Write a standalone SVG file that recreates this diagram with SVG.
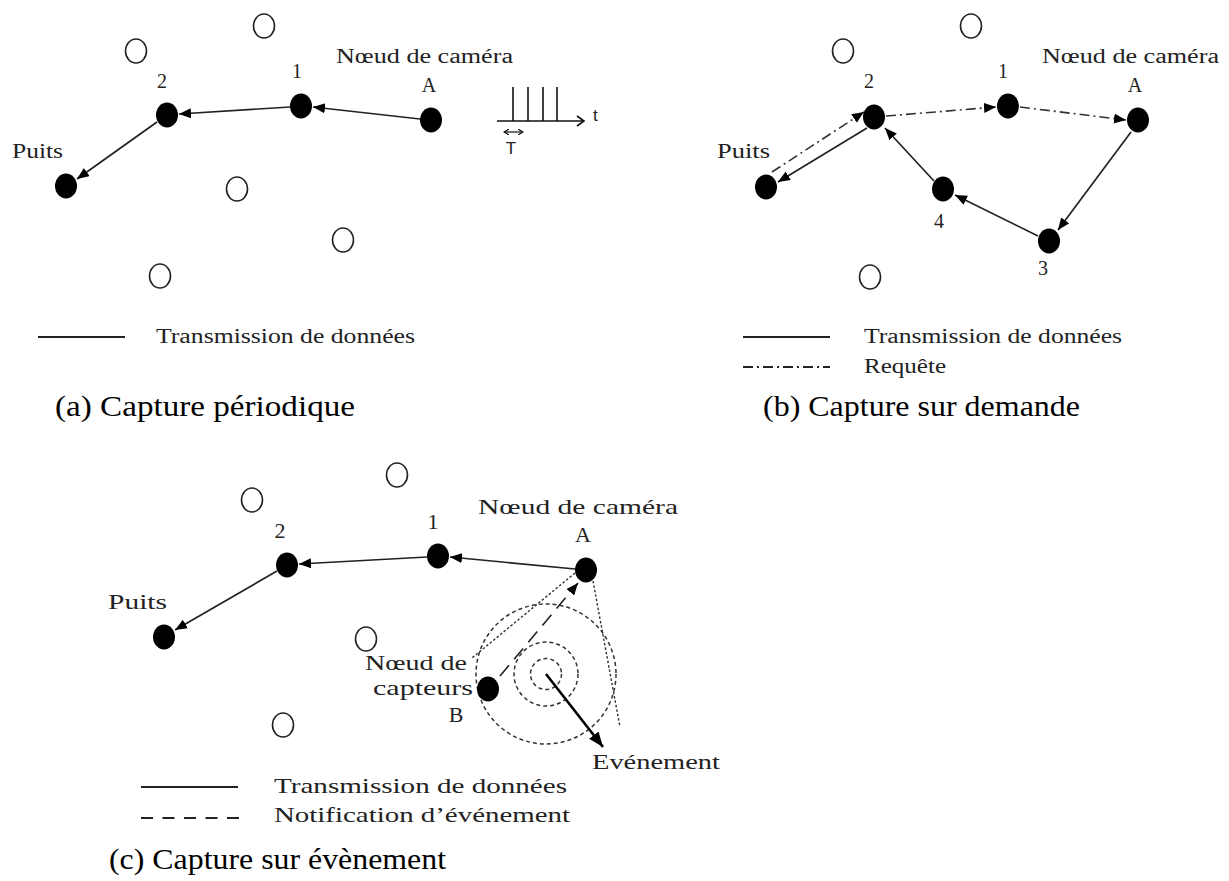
<svg xmlns="http://www.w3.org/2000/svg" width="1229" height="881" viewBox="0 0 1229 881">
  <style>
    .lbl { font-family: "Liberation Serif", "DejaVu Serif", serif; font-size: 20px; fill: #222; }
    .lblc { font-family: "Liberation Serif", "DejaVu Serif", serif; font-size: 22px; fill: #222; }
    .cap { font-family: "Liberation Serif", "Times New Roman", serif; font-size: 29px; fill: #000; }
    .sans { font-family: "Liberation Sans", Arial, sans-serif; font-size: 17px; fill: #222; }
    .dot { fill: #000; }
    .free { fill: none; stroke: #222; stroke-width: 1.6; }
    .data { fill: none; stroke: #222; stroke-width: 1.7; marker-end: url(#tri); }
    .req { fill: none; stroke: #333; stroke-width: 1.6; stroke-dasharray: 10 4 2 4; marker-end: url(#tri); }
    .note { fill: none; stroke: #222; stroke-width: 1.6; stroke-dasharray: 14 8; marker-end: url(#tri); }
    .ring { fill: none; stroke: #333; stroke-width: 1.5; stroke-dasharray: 4 3; }
    .view { fill: none; stroke: #333; stroke-width: 1.4; stroke-dasharray: 2.5 2; }
    .leg { stroke: #222; stroke-width: 2; }
  </style>
  <defs>
    <marker id="tri" markerUnits="userSpaceOnUse" markerWidth="13" markerHeight="11" refX="12" refY="5" orient="auto">
      <path d="M0,0 L12,5 L0,10 z" fill="#000"/>
    </marker>
    <marker id="triBig" markerUnits="userSpaceOnUse" markerWidth="16" markerHeight="13" refX="15" refY="6" orient="auto">
      <path d="M0,0 L15,6 L0,12 z" fill="#000"/>
    </marker>
    <marker id="chev" markerUnits="userSpaceOnUse" markerWidth="10" markerHeight="12" refX="8" refY="6" orient="auto">
      <path d="M1,1 L8,6 L1,11" fill="none" stroke="#111" stroke-width="1.6"/>
    </marker>
    <marker id="small" markerUnits="userSpaceOnUse" markerWidth="6" markerHeight="6" refX="5" refY="3" orient="auto-start-reverse">
      <path d="M0,0 L5,3 L0,6" fill="none" stroke="#111" stroke-width="1.2"/>
    </marker>
  </defs>

  <!-- ===== (a) periodic capture ===== -->
  <g id="a-idle">
    <ellipse class="free" cx="136" cy="51" rx="10.5" ry="12"/>
    <ellipse class="free" cx="264" cy="26" rx="10.5" ry="12"/>
    <ellipse class="free" cx="237" cy="189" rx="10.5" ry="12"/>
    <ellipse class="free" cx="343" cy="240" rx="10.5" ry="12"/>
    <ellipse class="free" cx="160" cy="276" rx="10.5" ry="12"/>
  </g>
  <g id="a-sink">
    <ellipse class="dot" cx="66" cy="186" rx="11" ry="12.5"/>
    <text class="lbl" x="12" y="158" textLength="51" lengthAdjust="spacingAndGlyphs">Puits</text>
  </g>
  <g id="a-node2">
    <ellipse class="dot" cx="167" cy="115" rx="11" ry="12.5"/>
    <text class="lbl" x="162" y="88" text-anchor="middle">2</text>
  </g>
  <g id="a-node1">
    <ellipse class="dot" cx="301" cy="106" rx="11" ry="12.5"/>
    <text class="lbl" x="297" y="78" text-anchor="middle">1</text>
  </g>
  <g id="a-camera">
    <ellipse class="dot" cx="431" cy="120" rx="11" ry="12.5"/>
    <text class="lbl" x="429" y="92" text-anchor="middle">A</text>
    <text class="lbl" x="336" y="63" textLength="177" lengthAdjust="spacingAndGlyphs">Nœud de caméra</text>
  </g>
  <g id="a-period">
    <line x1="497" y1="121" x2="584" y2="121" stroke="#111" stroke-width="1.6" marker-end="url(#chev)"/>
    <g stroke="#111" stroke-width="1.6">
      <line x1="513" y1="87" x2="513" y2="121"/>
      <line x1="528" y1="87" x2="528" y2="121"/>
      <line x1="543" y1="87" x2="543" y2="121"/>
      <line x1="557" y1="87" x2="557" y2="121"/>
    </g>
    <line x1="504" y1="132" x2="523" y2="132" stroke="#111" stroke-width="1.2" marker-start="url(#small)" marker-end="url(#small)"/>
    <text class="sans" x="593" y="121">t</text>
    <text class="sans" x="511" y="154" text-anchor="middle">T</text>
  </g>
  <g id="a-links">
    <line class="data" x1="420" y1="119" x2="313" y2="107"/>
    <line class="data" x1="290" y1="107" x2="179" y2="114"/>
    <line class="data" x1="157" y1="122" x2="77" y2="179"/>
  </g>
  <g id="a-legend">
    <line class="leg" x1="38" y1="337" x2="125" y2="337"/>
    <text class="lbl" x="156" y="343" textLength="259" lengthAdjust="spacingAndGlyphs">Transmission de données</text>
    <text class="cap" x="55" y="416" textLength="300" lengthAdjust="spacingAndGlyphs">(a)  Capture périodique</text>
  </g>

  <!-- ===== (b) on-demand capture ===== -->
  <g id="b-idle">
    <ellipse class="free" cx="843" cy="51" rx="10.5" ry="12"/>
    <ellipse class="free" cx="971" cy="26" rx="10.5" ry="12"/>
    <ellipse class="free" cx="870" cy="277" rx="10.5" ry="12"/>
  </g>
  <g id="b-sink">
    <ellipse class="dot" cx="766" cy="187" rx="11" ry="12.5"/>
    <text class="lbl" x="717" y="158" textLength="53" lengthAdjust="spacingAndGlyphs">Puits</text>
  </g>
  <g id="b-node2">
    <ellipse class="dot" cx="874" cy="117" rx="11" ry="12.5"/>
    <text class="lbl" x="869" y="88" text-anchor="middle">2</text>
  </g>
  <g id="b-node1">
    <ellipse class="dot" cx="1008" cy="106" rx="11" ry="12.5"/>
    <text class="lbl" x="1003" y="78" text-anchor="middle">1</text>
  </g>
  <g id="b-camera">
    <ellipse class="dot" cx="1138" cy="120" rx="11" ry="12.5"/>
    <text class="lbl" x="1135" y="92" text-anchor="middle">A</text>
    <text class="lbl" x="1042" y="63" textLength="177" lengthAdjust="spacingAndGlyphs">Nœud de caméra</text>
  </g>
  <g id="b-node4">
    <ellipse class="dot" cx="943" cy="189" rx="11" ry="12.5"/>
    <text class="lbl" x="939" y="228" text-anchor="middle">4</text>
  </g>
  <g id="b-node3">
    <ellipse class="dot" cx="1049" cy="241" rx="11" ry="12.5"/>
    <text class="lbl" x="1043" y="275" text-anchor="middle">3</text>
  </g>
  <g id="b-links">
    <line class="req" x1="772" y1="172" x2="864" y2="112"/>
    <line class="data" x1="867" y1="128" x2="778" y2="182"/>
    <line class="req" x1="886" y1="116" x2="996" y2="107"/>
    <line class="req" x1="1020" y1="107" x2="1126" y2="120"/>
    <line class="data" x1="1131" y1="132" x2="1058" y2="230"/>
    <line class="data" x1="1038" y1="236" x2="955" y2="195"/>
    <line class="data" x1="934" y1="181" x2="885" y2="128"/>
  </g>
  <g id="b-legend">
    <line class="leg" x1="743" y1="337" x2="830" y2="337"/>
    <text class="lbl" x="864" y="343" textLength="258" lengthAdjust="spacingAndGlyphs">Transmission de données</text>
    <line x1="743" y1="367" x2="830" y2="367" stroke="#222" stroke-width="1.8" stroke-dasharray="10 4 2 4"/>
    <text class="lbl" x="864" y="373" textLength="82" lengthAdjust="spacingAndGlyphs">Requête</text>
    <text class="cap" x="763" y="416" textLength="317" lengthAdjust="spacingAndGlyphs">(b) Capture sur demande</text>
  </g>

  <!-- ===== (c) event-driven capture ===== -->
  <g id="c-idle">
    <ellipse class="free" cx="252" cy="500" rx="10.5" ry="12"/>
    <ellipse class="free" cx="397" cy="475" rx="10.5" ry="12"/>
    <ellipse class="free" cx="366" cy="639" rx="10.5" ry="12"/>
    <ellipse class="free" cx="283" cy="725" rx="10.5" ry="12"/>
  </g>
  <g id="c-sink">
    <ellipse class="dot" cx="164" cy="637" rx="11" ry="12.5"/>
    <text class="lblc" x="108" y="609" textLength="59" lengthAdjust="spacingAndGlyphs">Puits</text>
  </g>
  <g id="c-node2">
    <ellipse class="dot" cx="287" cy="565" rx="11" ry="12.5"/>
    <text class="lblc" x="280" y="538" text-anchor="middle">2</text>
  </g>
  <g id="c-node1">
    <ellipse class="dot" cx="438" cy="556" rx="11" ry="12.5"/>
    <text class="lblc" x="433" y="529" text-anchor="middle">1</text>
  </g>
  <g id="c-camera">
    <ellipse class="dot" cx="586" cy="570" rx="11" ry="12.5"/>
    <text class="lblc" x="583" y="542" text-anchor="middle">A</text>
    <text class="lblc" x="478" y="514" textLength="200" lengthAdjust="spacingAndGlyphs">Nœud de caméra</text>
  </g>
  <g id="c-event">
    <circle class="ring" cx="546" cy="674" r="15.5"/>
    <circle class="ring" cx="546" cy="674" r="32"/>
    <circle class="ring" cx="546" cy="674" r="70"/>
    <line x1="546" y1="674" x2="603" y2="747" stroke="#000" stroke-width="2.6" marker-end="url(#triBig)"/>
    <text class="lblc" x="592" y="769" textLength="128" lengthAdjust="spacingAndGlyphs">Evénement</text>
  </g>
  <g id="c-view">
    <line class="view" x1="575" y1="573" x2="472" y2="658"/>
    <line class="view" x1="593" y1="581" x2="620" y2="727"/>
  </g>
  <g id="c-sensor">
    <ellipse class="dot" cx="488" cy="689" rx="11" ry="12.5"/>
    <text class="lblc" x="365" y="670" textLength="102" lengthAdjust="spacingAndGlyphs">Nœud de</text>
    <text class="lblc" x="373" y="695" textLength="100" lengthAdjust="spacingAndGlyphs">capteurs</text>
    <text class="lblc" x="456" y="722" text-anchor="middle">B</text>
  </g>
  <g id="c-links">
    <line class="data" x1="575" y1="569" x2="450" y2="557"/>
    <line class="data" x1="427" y1="557" x2="299" y2="564"/>
    <line class="data" x1="277" y1="571" x2="175" y2="630"/>
    <line class="note" x1="500" y1="676" x2="578" y2="583"/>
  </g>
  <g id="c-legend">
    <line class="leg" x1="141" y1="787" x2="238" y2="787"/>
    <text class="lblc" x="274" y="793" textLength="293" lengthAdjust="spacingAndGlyphs">Transmission de données</text>
    <line x1="141" y1="818" x2="239" y2="818" stroke="#222" stroke-width="1.8" stroke-dasharray="12 9.5"/>
    <text class="lblc" x="274" y="822" textLength="296" lengthAdjust="spacingAndGlyphs">Notification d’événement</text>
    <text class="cap" x="109" y="869" textLength="337" lengthAdjust="spacingAndGlyphs">(c) Capture sur évènement</text>
  </g>
</svg>
